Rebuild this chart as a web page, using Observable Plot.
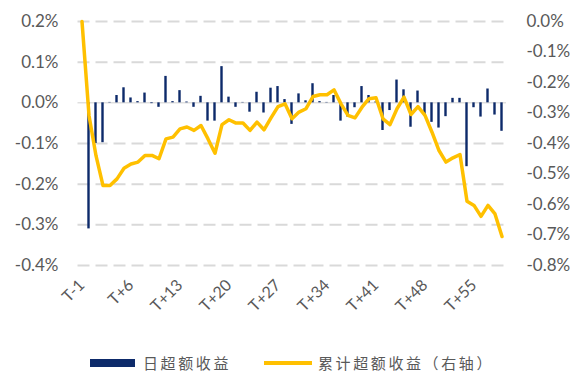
<!DOCTYPE html>
<html>
<head>
<meta charset="utf-8">
<script src="https://cdn.jsdelivr.net/npm/d3@7"></script>
<script src="https://cdn.jsdelivr.net/npm/@observablehq/plot@0.6"></script>
<style>
  html, body { margin: 0; padding: 0; background: #fff; }
  #wrap { position: relative; width: 582px; height: 375px; overflow: hidden; }
  #legend { position: relative; width: 582px; height: 35px; font-family: "Noto Sans CJK SC", sans-serif; color: #595959; }
  .sw { position: absolute; }
  .lt { position: absolute; font-size: 15px; letter-spacing: 2.6px; line-height: 18px; white-space: nowrap; }
</style>
</head>
<body>
<div id="wrap"></div>
<script>
// categories (trading days relative to event)
const categories = ["T-1","T+0","T+1","T+2","T+3","T+4","T+5","T+6","T+7","T+8","T+9","T+10","T+11","T+12","T+13","T+14","T+15","T+16","T+17","T+18","T+19","T+20","T+21","T+22","T+23","T+24","T+25","T+26","T+27","T+28","T+29","T+30","T+31","T+32","T+33","T+34","T+35","T+36","T+37","T+38","T+39","T+40","T+41","T+42","T+43","T+44","T+45","T+46","T+47","T+48","T+49","T+50","T+51","T+52","T+53","T+54","T+55","T+56","T+57","T+58","T+59"];
// daily excess return (%), left axis
const daily = [0,-0.31,-0.10,-0.098,0.001,0.018,0.037,0.012,0.003,0.024,-0.002,-0.011,0.065,0.003,0.030,0.002,-0.011,0.016,-0.045,-0.045,0.089,0.014,-0.011,0.001,-0.023,0.026,-0.025,0.036,0.040,0.008,-0.053,0.022,0.005,0.047,0.003,0.001,0.018,-0.045,-0.035,-0.012,0.040,0.018,0.002,-0.068,-0.019,0.056,0.032,-0.060,0.029,-0.031,-0.048,-0.062,-0.034,0.011,0.011,-0.157,-0.012,-0.035,0.034,-0.030,-0.070];
// cumulative excess return (%), right axis
const cumulative = [0,-0.308,-0.440,-0.538,-0.538,-0.516,-0.481,-0.467,-0.461,-0.439,-0.439,-0.450,-0.385,-0.379,-0.352,-0.346,-0.357,-0.341,-0.385,-0.432,-0.338,-0.322,-0.333,-0.333,-0.357,-0.330,-0.355,-0.316,-0.279,-0.270,-0.319,-0.297,-0.286,-0.246,-0.240,-0.240,-0.224,-0.270,-0.308,-0.316,-0.281,-0.253,-0.250,-0.319,-0.338,-0.286,-0.248,-0.305,-0.279,-0.308,-0.363,-0.423,-0.461,-0.447,-0.436,-0.589,-0.603,-0.639,-0.603,-0.631,-0.705];
// axis ticks
const leftTicks = [0.2, 0.1, 0.0, -0.1, -0.2, -0.3, -0.4];
const leftLabels = ["0.2%","0.1%","0.0%","-0.1%","-0.2%","-0.3%","-0.4%"];
const rightTicks = [0.0, -0.1, -0.2, -0.3, -0.4, -0.5, -0.6, -0.7, -0.8];
const rightLabels = ["0.0%","-0.1%","-0.2%","-0.3%","-0.4%","-0.5%","-0.6%","-0.7%","-0.8%"];
const xTickLabels = ["T-1","T+6","T+13","T+20","T+27","T+34","T+41","T+48","T+55"];
const seriesNames = ["日超额收益", "累计超额收益（右轴）"];

const barColor = "#0D2A6A";
const lineColor = "#FFC000";

// map right-axis domain [-0.8, 0] onto left-axis domain [-0.4, 0.2]
const toLeft = r => 0.2 + r * 0.75;

const rows = categories.map((c, i) => ({cat: c, daily: daily[i], cum: cumulative[i]}));

const chart = Plot.plot({
  width: 582,
  height: 340,
  marginLeft: 77.5,
  marginRight: 76,
  marginTop: 21,
  marginBottom: 75,
  style: {fontFamily: "Lato, sans-serif", color: "#595959", background: "#fff"},
  x: {type: "band", domain: categories, padding: 0, axis: null},
  y: {domain: [-0.4, 0.2], axis: null},
  marks: [
    Plot.ruleY(leftTicks.filter(d => d !== 0), {stroke: "#D9D9D9", strokeWidth: 2, strokeDasharray: "12,6"}),
    Plot.ruleY([0], {stroke: "#D0D0D0", strokeWidth: 1}),
    Plot.barY(rows, {x: "cat", y: "daily", fill: barColor, insetLeft: 2.3, insetRight: 2.3}),
    Plot.lineY(rows, {x: "cat", y: d => toLeft(d.cum), stroke: lineColor, strokeWidth: 3.5, strokeLinejoin: "round"}),
    Plot.axisY(leftTicks, {anchor: "left", label: null, tickSize: 0, tickPadding: 19.5, fontSize: 17, tickFormat: (d, i) => leftLabels[i]}),
    Plot.axisY(rightTicks.map(toLeft), {anchor: "right", label: null, tickSize: 0, tickPadding: 20, fontSize: 17, tickFormat: (d, i) => rightLabels[i]}),
    Plot.axisX(xTickLabels, {anchor: "bottom", label: null, tickSize: 0, tickPadding: 17, tickRotate: -45, fontSize: 16})
  ]
});

const wrap = document.getElementById("wrap");
wrap.appendChild(chart);

const legend = document.createElement("div");
legend.id = "legend";
legend.innerHTML =
  `<div class="sw" style="left:90px;top:19px;width:45px;height:8px;background:${barColor}"></div>` +
  `<div class="lt" style="left:143px;top:14px">${seriesNames[0]}</div>` +
  `<div class="sw" style="left:264px;top:21px;width:48px;height:3.5px;background:${lineColor}"></div>` +
  `<div class="lt" style="left:318px;top:14px">${seriesNames[1]}</div>`;
wrap.appendChild(legend);
</script>
</body>
</html>
